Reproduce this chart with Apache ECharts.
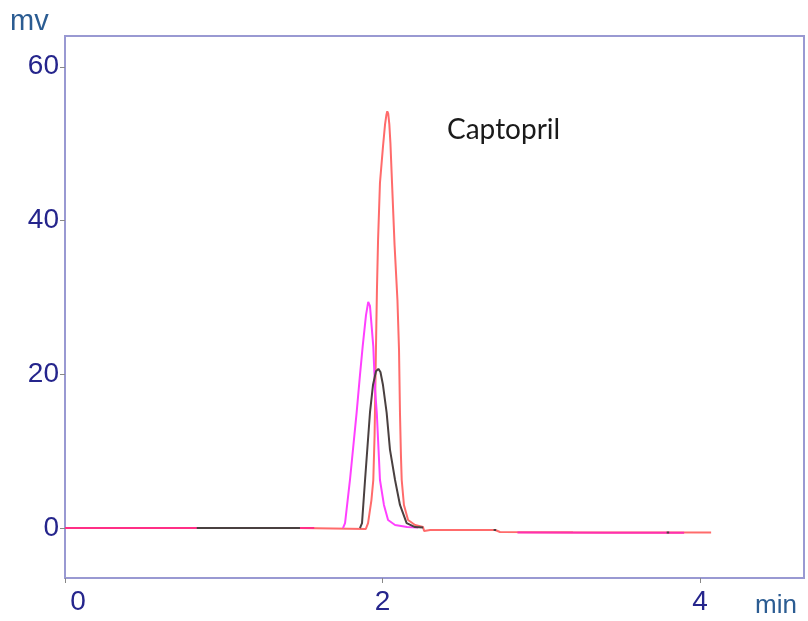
<!DOCTYPE html>
<html>
<head>
<meta charset="utf-8">
<script src="https://cdn.jsdelivr.net/npm/echarts@6/dist/echarts.min.js"></script>
<style>html,body{margin:0;padding:0;background:#fff}#c{width:808px;height:621px}</style>
</head>
<body>
<div id="c"></div>
<script>
// time (min), signal (mV)
var redTrace = [
  [0,0],[0.8,0],[1.48,0],[1.49,-0.15],[1.895,-0.12],[1.909,0.65],[1.930,3.6],[1.942,6.25],
  [1.950,12.0],[1.955,18.5],[1.960,25.0],[1.965,31.0],[1.972,37.5],[1.984,44.9],[2.003,49.6],
  [2.016,52.5],[2.025,53.8],[2.030,54.2],[2.036,53.9],[2.043,52.5],[2.050,50.0],[2.060,44.9],
  [2.076,36.8],[2.094,29.7],[2.104,23.2],[2.110,15.0],[2.116,9.5],
  [2.121,6.25],[2.135,3.0],[2.161,1.04],[2.205,0.4],[2.255,0.13],[2.262,-0.4],[2.30,-0.26],
  [2.71,-0.26],[2.74,-0.52],[3.2,-0.55],[4.07,-0.59]
];
var magentaTrace = [
  [0,0],[0.8,0],[1.48,0],[1.57,0],null,
  [1.751,0],[1.764,0.65],[1.795,6.25],[1.837,15.0],[1.858,19.9],[1.875,23.6],[1.896,27.7],
  [1.910,29.4],[1.921,28.9],[1.942,23.6],[1.953,18.0],[1.964,15.0],[1.975,10.2],[1.984,6.25],
  [2.009,3.0],[2.035,1.04],[2.079,0.4],[2.155,0.13],[2.224,0.06],null,
  [2.85,-0.58],[3.4,-0.6],[3.9,-0.6]
];
var blackTrace = [
  [0.83,0],[1.2,0],[1.48,0],null,
  [1.858,0],[1.871,0.65],[1.890,6.25],[1.921,15.0],[1.940,18.6],[1.959,20.4],[1.974,20.7],
  [1.987,20.3],[2.003,18.6],[2.026,15.0],[2.047,10.2],[2.079,6.25],[2.110,3.0],[2.152,0.65],
  [2.205,0.13],[2.256,0.06],null,
  [2.70,-0.26],[2.716,-0.26],null,
  [3.79,-0.59],[3.806,-0.59]
];
var xTicks = [0, 2, 4];
var yTicks = [0, 20, 40, 60];
var annotation = 'Captopril';
var yUnit = 'mv';
var xUnit = 'min';

var chart = echarts.init(document.getElementById('c'), null, {renderer: 'canvas'});
var labelColor = '#25258c';
var unitColor = '#2b5c92';
var frameColor = '#9999d2';
chart.setOption({
  animation: false,
  backgroundColor: '#ffffff',
  grid: {left: 65, top: 36, right: 4, bottom: 43, show: true, borderColor: frameColor, borderWidth: 2, backgroundColor: 'transparent'},
  xAxis: {
    type: 'value', min: 0, max: 4.655,
    axisLine: {show: true, onZero: false, lineStyle: {color: frameColor, width: 2}},
    splitLine: {show: false},
    axisTick: {show: true, customValues: xTicks, length: 5, lineStyle: {color: '#888', width: 1}},
    axisLabel: {
      customValues: xTicks,
      color: labelColor, fontFamily: 'Liberation Sans', fontSize: 28, margin: 10,
      formatter: function (v) { return v === 0 ? '{z|0}' : String(v); },
      rich: {z: {padding: [0, 0, 0, 26], color: labelColor, fontFamily: 'Liberation Sans', fontSize: 28}}
    }
  },
  yAxis: {
    type: 'value', min: -6.5, max: 64,
    axisLine: {show: true, onZero: false, lineStyle: {color: frameColor, width: 2}},
    splitLine: {show: false},
    axisTick: {show: true, customValues: yTicks, length: 5, lineStyle: {color: '#888', width: 1}},
    axisLabel: {customValues: yTicks, color: labelColor, fontFamily: 'Liberation Sans', fontSize: 28, margin: 6}
  },
  visualMap: {
    show: false, type: 'piecewise', seriesIndex: 1, dimension: 0,
    pieces: [
      {lt: 1.7, color: '#ff2f86'},
      {gte: 1.7, lt: 2.5, color: '#ff40ff'},
      {gte: 2.5, color: '#ff2fb0'}
    ]
  },
  series: [
    {type: 'line', data: redTrace, showSymbol: false, connectNulls: false, lineStyle: {color: '#ff6b6b', width: 2}, itemStyle: {color: '#ff6b6b'}},
    {type: 'line', data: magentaTrace, showSymbol: false, connectNulls: false, lineStyle: {width: 2}},
    {type: 'line', data: blackTrace, showSymbol: false, connectNulls: false, lineStyle: {color: '#4a4040', width: 2}, itemStyle: {color: '#4a4040'}}
  ],
  graphic: [
    {type: 'text', left: 10, top: 7, style: {text: yUnit, fill: unitColor, font: '29px "Liberation Sans"'}},
    {type: 'text', left: 755, top: 593, style: {text: xUnit, fill: unitColor, font: '26px "Liberation Sans"'}},
    {type: 'text', left: 447, top: 116, style: {text: annotation, fill: '#1a1a1a', font: '28px Lato'}}
  ]
});
</script>
</body>
</html>
